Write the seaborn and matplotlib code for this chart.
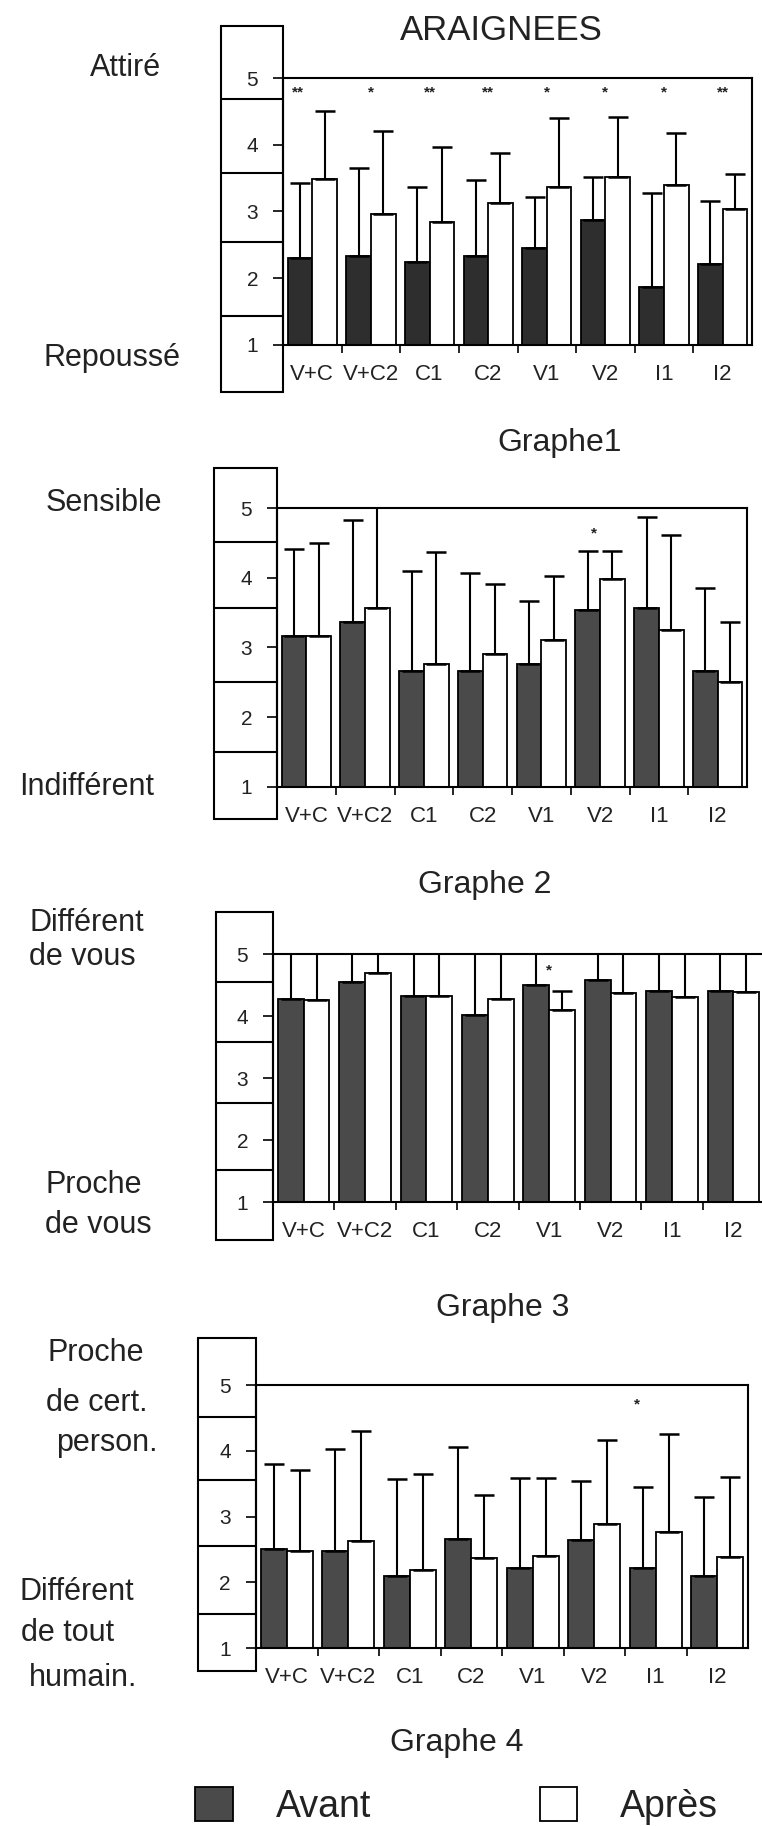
import numpy as np
import pandas as pd
import matplotlib
matplotlib.use("Agg")
import matplotlib.pyplot as plt
import matplotlib.transforms as mtransforms
from matplotlib.patches import Rectangle
import seaborn as sns

# ---------------- data ----------------
conditions = ["V+C", "V+C2", "C1", "C2", "V1", "V2", "I1", "I2"]

g1_avant = [2.30, 2.34, 2.25, 2.33, 2.45, 2.88, 1.87, 2.22]
g1_avant_top = [3.43, 3.65, 3.37, 3.47, 3.22, 3.51, 3.27, 3.15]
g1_apres = [3.49, 2.97, 2.85, 3.12, 3.36, 3.52, 3.40, 3.03]
g1_apres_top = [4.50, 4.21, 3.97, 3.88, 4.40, 4.42, 4.18, 3.56]
g1_sig = ["**", "*", "**", "**", "*", "*", "*", "**"]

g2_avant = [3.16, 3.36, 2.67, 2.67, 2.76, 3.54, 3.56, 2.67]
g2_avant_top = [4.41, 4.83, 4.10, 4.07, 3.67, 4.38, 4.87, 3.85]
g2_apres = [3.16, 3.57, 2.77, 2.91, 3.11, 3.98, 3.25, 2.51]
g2_apres_top = [4.50, 5.20, 4.37, 3.91, 4.02, 4.38, 4.62, 3.36]
g2_sig = ["", "", "", "", "", "*", "", ""]

g3_avant = [4.28, 4.55, 4.32, 4.01, 4.50, 4.58, 4.41, 4.40]
g3_avant_top = [5.30, 5.30, 5.30, 5.30, 5.30, 5.30, 5.30, 5.30]
g3_apres = [4.26, 4.70, 4.32, 4.28, 4.10, 4.37, 4.31, 4.39]
g3_apres_top = [5.30, 5.30, 5.30, 5.30, 4.41, 5.30, 5.30, 5.30]
g3_sig = ["", "", "", "", "*", "", "", ""]

g4_avant = [2.51, 2.47, 2.09, 2.66, 2.22, 2.65, 2.22, 2.10]
g4_avant_top = [3.80, 4.03, 3.57, 4.06, 3.59, 3.54, 3.45, 3.30]
g4_apres = [2.47, 2.62, 2.18, 2.37, 2.40, 2.89, 2.76, 2.38]
g4_apres_top = [3.71, 4.30, 3.65, 3.32, 3.59, 4.17, 4.25, 3.60]
g4_sig = ["", "", "", "", "", "", "*", ""]

y_ticks = [1, 2, 3, 4, 5]
periods = ["Avant", "Après"]

# ---------------- style ----------------
sns.set_theme(style="white")
plt.rcParams["font.family"] = ["Liberation Sans", "DejaVu Sans"]
TXT = "#222222"

W, H = 762, 1826
fig = plt.figure(figsize=(W / 100, H / 100), dpi=100)


def rect_for(x0, x1, y5, y1):
    return [x0 / W, 1 - y1 / H, (x1 - x0) / W, (y1 - y5) / H]


layouts = [
    dict(px=(283, 752, 78, 345), box_left=221, box=(5.78, [4.69, 3.57, 2.55, 1.43], 0.30),
         dark="#2e2e2e", sig_off=[-0.25, 0, 0, 0, 0, 0, 0, 0], sig_y=4.78),
    dict(px=(277, 747, 508, 787), box_left=214, box=(5.57, [4.51, 3.57, 2.51, 1.50], 0.54),
         dark="#4a4a4a", sig_off=[0, 0, 0, 0, 0, -0.1, 0, 0], sig_y=4.64),
    dict(px=(273, 764, 954, 1202), box_left=216, box=(5.68, [4.55, 3.58, 2.60, 1.52], 0.39),
         dark="#4a4a4a", sig_off=[0] * 8, sig_y=4.74),
    dict(px=(256, 748, 1385, 1648), box_left=198, box=(5.71, [4.52, 3.56, 2.55, 1.52], 0.65),
         dark="#4a4a4a", sig_off=[0, 0, 0, 0, 0, 0, -0.3, 0], sig_y=4.70),
]

datasets = [
    (g1_avant, g1_avant_top, g1_apres, g1_apres_top, g1_sig),
    (g2_avant, g2_avant_top, g2_apres, g2_apres_top, g2_sig),
    (g3_avant, g3_avant_top, g3_apres, g3_apres_top, g3_sig),
    (g4_avant, g4_avant_top, g4_apres, g4_apres_top, g4_sig),
]

bar_handles = None
for lay, (av, avt, ap, apt, sig) in zip(layouts, datasets):
    x0, x1, y5, y1 = lay["px"]
    ax = fig.add_axes(rect_for(x0, x1, y5, y1))
    df = pd.DataFrame({
        "cond": conditions * 2,
        "period": [periods[0]] * len(conditions) + [periods[1]] * len(conditions),
        "val": av + ap,
    })
    sns.barplot(data=df, x="cond", y="val", hue="period", order=conditions,
                hue_order=periods, palette=[lay["dark"], "white"], saturation=1,
                edgecolor="black", linewidth=1.3, width=0.84, errorbar=None,
                legend=False, ax=ax)
    bars = list(ax.containers)
    bar_handles = bars
    for cont, tops in zip(bars, [avt, apt]):
        xs = [p.get_x() + p.get_width() / 2 for p in cont]
        hs = [p.get_height() for p in cont]
        up = [t - h for t, h in zip(tops, hs)]
        ax.errorbar(xs, hs, yerr=[np.zeros(len(hs)), up], fmt="none", ecolor="black",
                    elinewidth=1.5, capsize=7, capthick=1.8, zorder=3)
    # significance marks
    for i, s in enumerate(sig):
        if s:
            ax.text(i + lay["sig_off"][i], lay["sig_y"], s, ha="center", va="center",
                    fontsize=11, fontweight="bold", color=TXT)
    ax.set_xlim(-0.5, len(conditions) - 0.5)
    ax.set_ylim(1, 5)
    ax.set_xlabel("")
    ax.set_ylabel("")
    ax.set_yticks(y_ticks)
    ax.set_yticklabels([str(t) for t in y_ticks])
    ax.tick_params(axis="y", left=True, length=7, width=1.2, pad=11, labelsize=15,
                   labelcolor=TXT, color="black", direction="out")
    ax.tick_params(axis="x", which="major", bottom=True, length=0, pad=14, labelsize=16,
                   labelcolor=TXT)
    ax.set_xticks(np.arange(0.5, len(conditions) - 1, 1), minor=True)
    ax.tick_params(axis="x", which="minor", bottom=True, length=6, width=1.2,
                   direction="out", color="black")
    for sp in ax.spines.values():
        sp.set_visible(True)
        sp.set_color("black")
        sp.set_linewidth(1.5)
    # scale box on the left
    trans = mtransforms.blended_transform_factory(ax.transAxes, ax.transData)
    bx = (lay["box_left"] - x0) / (x1 - x0)
    top, divs, bot = lay["box"]
    ax.add_patch(Rectangle((bx, bot), -bx, top - bot, transform=trans, fill=False,
                           lw=1.5, ec="black", clip_on=False))
    for d in divs:
        ax.plot([bx, 0], [d, d], transform=trans, color="black", lw=1.5, clip_on=False)

# ---------------- texts ----------------
def ftext(x, y, s, size, ha="center"):
    fig.text(x / W, 1 - y / H, s, ha=ha, va="center", fontsize=size, color=TXT)


ftext(501, 30, "ARAIGNEES", 25)
ftext(560, 443, "Graphe1", 23)
ftext(485, 885, "Graphe 2", 23)
ftext(503, 1308, "Graphe 3", 23)
ftext(457, 1743, "Graphe 4", 23)

side_labels = [
    ("Attiré", 125, 68), ("Repoussé", 112, 358),
    ("Sensible", 104, 503), ("Indifférent", 87, 787),
    ("Différent", 87, 923), ("de vous", 82, 957),
    ("Proche", 94, 1185), ("de vous", 98, 1225),
    ("Proche", 96, 1353), ("de cert.", 97, 1403), ("person.", 107, 1443),
    ("Différent", 77, 1592), ("de tout", 68, 1633), ("humain.", 83, 1678),
]
for s, x, y in side_labels:
    ftext(x, y, s, 22)

# ---------------- legend ----------------
leg = fig.legend(handles=[bar_handles[0], bar_handles[1]], labels=periods,
                 loc="center left", bbox_to_anchor=(195 / W, 1 - 1806 / H), ncol=2,
                 frameon=False, fontsize=27, handlelength=1.0, handleheight=1.0,
                 handletextpad=1.15, columnspacing=4.5, borderpad=0, borderaxespad=0)
for t in leg.get_texts():
    t.set_color(TXT)

fig.savefig("out.png", dpi=100)
